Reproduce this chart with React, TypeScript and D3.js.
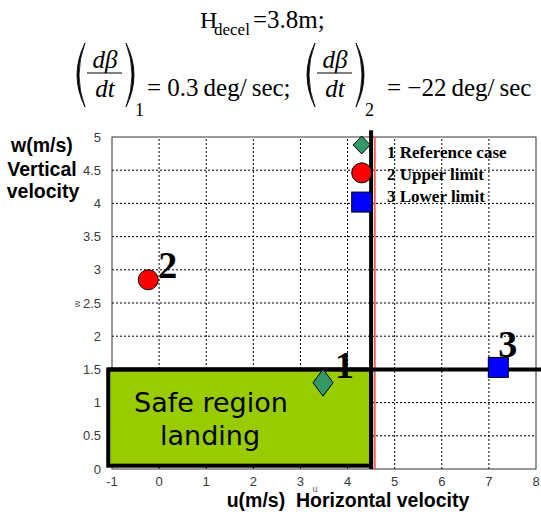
import * as d3 from "d3";

// axis ticks
const uTicks = [-1, 0, 1, 2, 3, 4, 5, 6, 7, 8];
const wTicks = [0, 0.5, 1, 1.5, 2, 2.5, 3, 3.5, 4, 4.5, 5];

// the three cases
const caseIds = ["1", "2", "3"];
const caseLabels = ["Reference case", "Upper limit", "Lower limit"];
const caseU = [3.48, -0.23, 7.2];
const caseW = [1.3, 2.85, 1.53];
const caseShapes = ["diamond", "circle", "square"];

// legend marker positions (data units)
const legendU = 4.3;
const legendW = [4.88, 4.46, 4.02];

// safe landing region and limits
const safeU = [-1.08, 4.5];
const safeW = [0.05, 1.5];
const uLimit = 4.5;
const wLimit = 1.5;
const redU = 4.58;

const serif = "'Liberation Serif', 'Times New Roman', serif";
const sans = "'Liberation Sans', Arial, sans-serif";
const colors: Record<string, string> = { diamond: "#339966", circle: "#ff0000", square: "#0000ff" };
const labelOffset = [
  [12, -5],
  [10, -2],
  [0, -10],
];

function Marker({ shape, cx, cy, big }: { shape: string; cx: number; cy: number; big?: boolean }) {
  const fill = colors[shape];
  if (shape === "circle") return <circle cx={cx} cy={cy} r={10} fill={fill} stroke="#000" strokeWidth={1} />;
  if (shape === "square")
    return <rect x={cx - 10} y={cy - 10} width={20} height={20} fill={fill} stroke="#000" strokeWidth={1} />;
  const hw = big ? 10 : 8.5;
  const hh = big ? 13.5 : 9;
  return (
    <path
      d={`M${cx},${cy - hh}L${cx + hw},${cy}L${cx},${cy + hh}L${cx - hw},${cy}Z`}
      fill={fill}
      stroke="#000"
      strokeWidth={1}
    />
  );
}

function Paren({ x, top, bottom, right }: { x: number; top: number; bottom: number; right?: boolean }) {
  const mid = (top + bottom) / 2;
  const d = right
    ? `M${x - 6},${top} Q${x + 10},${mid} ${x - 6},${bottom} Q${x + 6},${mid} ${x - 6},${top}Z`
    : `M${x + 6},${top} Q${x - 10},${mid} ${x + 6},${bottom} Q${x - 6},${mid} ${x + 6},${top}Z`;
  return <path d={d} fill="#000" stroke="#000" strokeWidth={0.8} />;
}

function Fraction({ x0, sub }: { x0: number; sub: string }) {
  return (
    <g fontFamily={serif}>
      <Paren x={x0 - 9} top={43} bottom={107} />
      <text x={x0 + 17} y={68} fontSize={25} fontStyle="italic" textAnchor="middle">
        dβ
      </text>
      <line x1={x0 - 1} x2={x0 + 34} y1={73} y2={73} stroke="#000" strokeWidth={1.2} />
      <text x={x0 + 17} y={97} fontSize={25} fontStyle="italic" textAnchor="middle">
        dt
      </text>
      <Paren x={x0 + 44} top={43} bottom={107} right />
      <text x={x0 + 47} y={116} fontSize={18}>
        {sub}
      </text>
    </g>
  );
}

export default function App() {
  const width = 541;
  const height = 518;
  const x = d3.scaleLinear().domain([-1, 8]).range([112, 536]);
  const y = d3.scaleLinear().domain([0, 5]).range([469, 137]);

  return (
    <svg width={width} height={height} style={{ position: "absolute", left: 0, top: 0, background: "#fff" }}>
      {/* title */}
      <g fontFamily={serif} fill="#000">
        <text x={200} y={28} fontSize={24}>
          H
        </text>
        <text x={214} y={35} fontSize={17}>
          decel
        </text>
        <text x={253} y={28} fontSize={25}>
          =3.8m;
        </text>
        <Fraction x0={88} sub="1" />
        <text x={147} y={96} fontSize={25} style={{ whiteSpace: "pre" }}>
          {"= 0.3\u2009deg/\u2009sec;"}
        </text>
        <Fraction x0={318} sub="2" />
        <text x={387} y={96} fontSize={25} style={{ whiteSpace: "pre" }}>
          {"= \u221222\u2009deg/\u2009sec"}
        </text>
      </g>

      {/* grid */}
      <g stroke="#000" strokeWidth={1} strokeDasharray="2,2">
        {uTicks.slice(1, -1).map((t) => (
          <line key={`gu${t}`} x1={x(t)} x2={x(t)} y1={y(0)} y2={y(5)} />
        ))}
        {wTicks.slice(1, -1).map((t) => (
          <line key={`gw${t}`} x1={x(-1)} x2={x(8)} y1={y(t)} y2={y(t)} />
        ))}
      </g>

      {/* frame */}
      <rect x={x(-1)} y={y(5)} width={x(8) - x(-1)} height={y(0) - y(5)} fill="none" stroke="#333" strokeWidth={1} />

      {/* tick labels */}
      <g fontFamily={sans} fontSize={13} fill="#3a3a3a">
        {uTicks.map((t) => (
          <text key={`tu${t}`} x={x(t)} y={486} textAnchor="middle">
            {t}
          </text>
        ))}
        {wTicks.map((t) => (
          <text key={`tw${t}`} x={x(-1) - 11} y={y(t) + 4.5} textAnchor="end">
            {t}
          </text>
        ))}
      </g>
      <text x={315} y={492} fontFamily={sans} fontSize={9} fill="#555" textAnchor="middle">
        u
      </text>
      <text
        transform={`translate(80,${y(2.5) + 1}) rotate(-90)`}
        fontFamily={sans}
        fontSize={9}
        fill="#555"
        textAnchor="middle"
      >
        w
      </text>

      {/* safe region */}
      <rect
        x={x(safeU[0])}
        y={y(safeW[1])}
        width={x(safeU[1]) - x(safeU[0])}
        height={y(safeW[0]) - y(safeW[1])}
        fill="#99cc00"
        stroke="#000"
        strokeWidth={4}
      />
      <line x1={x(redU)} x2={x(redU)} y1={y(0)} y2={y(5)} stroke="#ff4040" strokeWidth={1.5} />
      <line x1={x(safeU[0])} x2={width} y1={y(wLimit)} y2={y(wLimit)} stroke="#000" strokeWidth={4} />
      <line x1={x(uLimit)} x2={x(uLimit)} y1={y(0)} y2={y(5.1)} stroke="#000" strokeWidth={4} />
      <g fontFamily="'Comic Sans MS', 'DejaVu Sans', sans-serif" fontSize={27} textAnchor="middle">
        <text x={211} y={412}>
          Safe region
        </text>
        <text x={210} y={445}>
          landing
        </text>
      </g>

      {/* cases */}
      {caseIds.map((id, i) => (
        <g key={`c${id}`}>
          <Marker shape={caseShapes[i]} cx={x(caseU[i])} cy={y(caseW[i])} big />
          <text
            x={x(caseU[i]) + labelOffset[i][0]}
            y={y(caseW[i]) + labelOffset[i][1]}
            fontFamily={serif}
            fontWeight="bold"
            fontSize={38}
          >
            {id}
          </text>
        </g>
      ))}

      {/* legend */}
      {caseIds.map((id, i) => (
        <g key={`l${id}`}>
          <Marker shape={caseShapes[i]} cx={x(legendU)} cy={y(legendW[i])} />
          <text x={387} y={158 + i * 22} fontFamily={serif} fontWeight="bold" fontSize={17}>
            {id} {caseLabels[i]}
          </text>
        </g>
      ))}

      {/* axis titles */}
      <g fontFamily={sans} fontWeight="bold" fontSize={19.5} textAnchor="middle">
        <text x={42} y={152}>
          w(m/s)
        </text>
        <text x={42} y={176}>
          Vertical
        </text>
        <text x={43} y={198}>
          velocity
        </text>
        <text x={348} y={507} style={{ whiteSpace: "pre" }}>
          u(m/s)  Horizontal velocity
        </text>
      </g>
    </svg>
  );
}
